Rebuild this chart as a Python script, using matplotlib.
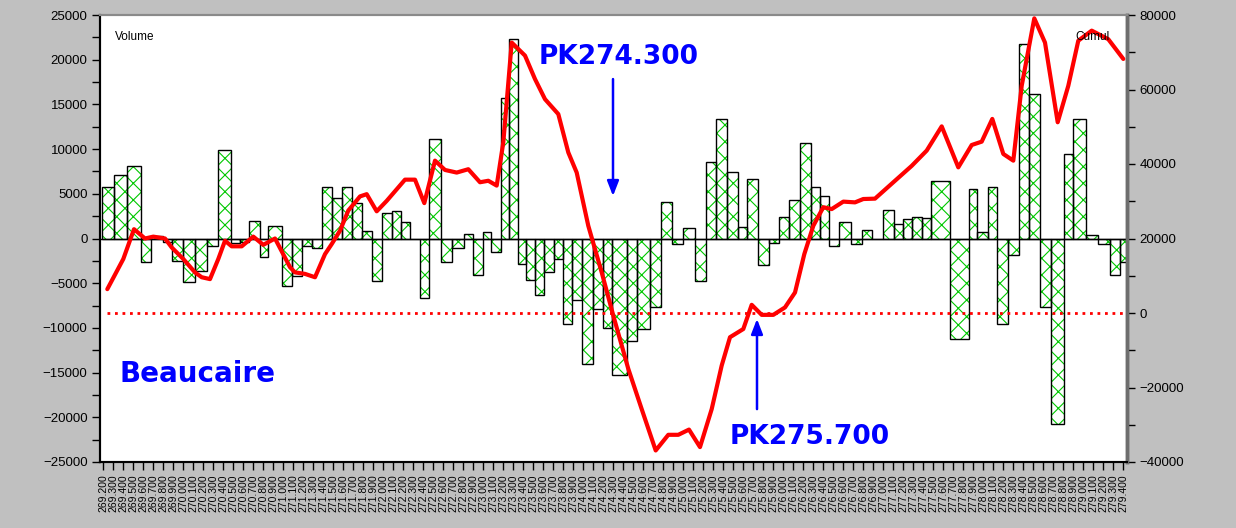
import numpy as np
import matplotlib
matplotlib.use("Agg")
import matplotlib.pyplot as plt
from matplotlib.ticker import MultipleLocator, FormatStrFormatter

# ---- data -------------------------------------------------------------
# PK (km) of the profile boundaries delimiting each volume section
section_edges_pk = [
    269.187, 269.310, 269.443, 269.577, 269.677, 269.803, 269.887, 270.003,
    270.120, 270.243, 270.353, 270.477, 270.570, 270.660, 270.770, 270.853,
    270.987, 271.087, 271.193, 271.287, 271.387, 271.493, 271.593, 271.693,
    271.793, 271.887, 271.987, 272.087, 272.180, 272.270, 272.370, 272.460,
    272.577, 272.693, 272.810, 272.903, 273.003, 273.080, 273.180, 273.260,
    273.347, 273.430, 273.520, 273.613, 273.713, 273.803, 273.893, 273.993,
    274.097, 274.197, 274.287, 274.443, 274.537, 274.670, 274.780, 274.887,
    275.003, 275.120, 275.227, 275.330, 275.437, 275.553, 275.643, 275.747,
    275.860, 275.963, 276.063, 276.170, 276.277, 276.370, 276.463, 276.563,
    276.677, 276.787, 276.893, 277.003, 277.110, 277.200, 277.287, 277.387,
    277.480, 277.673, 277.863, 277.937, 278.053, 278.143, 278.247, 278.363,
    278.463, 278.570, 278.677, 278.807, 278.897, 279.027, 279.147, 279.273,
    279.370, 279.437,
]

# Volume per section (left axis)
volume = [
    5800, 7100, 8100, -2600, 300, -400, -2500, -4900, -3600, -800,
    9900, -500, -400, 2000, -2100, 1400, -5300, -4250, -800, -1100,
    5800, 4500, 5800, 4000, 800, -4800, 2900, 3100, 1800, -100,
    -6600, 11100, -2600, -1100, 500, -4100, 700, -1500, 15700, 22300,
    -2800, -4600, -6300, -3800, -2300, -9550, -6900, -14000, -7900, -10000,
    -15300, -11500, -10100, -7700, 4100, -600, 1200, -4700, 8600, 13400,
    7400, 1300, 6600, -3000, -450, 2350, 4300, 10700, 5800, 4700,
    -800, 1900, -600, 900, -100, 3200, 1600, 2200, 2350, 2300,
    6450, -11200, 5500, 700, 5800, -9550, -1800, 21800, 16200, -7700,
    -20700, 9400, 13400, 370, -600, -4100, -2600,
]

# Cumulative volume (right axis)
cumul_pk = [
    269.243, 269.403, 269.510, 269.620, 269.703, 269.820, 269.887, 270.003,
    270.120, 270.187, 270.270, 270.353, 270.420, 270.487, 270.587, 270.703,
    270.803, 270.920, 271.070, 271.120, 271.220, 271.320, 271.420, 271.487,
    271.570, 271.653, 271.770, 271.837, 271.937, 272.037, 272.220, 272.320,
    272.413, 272.520, 272.620, 272.737, 272.853, 272.970, 273.053, 273.137,
    273.203, 273.287, 273.420, 273.520, 273.620, 273.753, 273.853, 273.937,
    274.053, 274.187, 274.303, 274.453, 274.587, 274.727, 274.853, 274.953,
    275.060, 275.170, 275.287, 275.387, 275.470, 275.603, 275.687, 275.787,
    275.903, 276.020, 276.120, 276.213, 276.303, 276.403, 276.487, 276.603,
    276.720, 276.803, 276.920, 277.120, 277.287, 277.437, 277.587, 277.753,
    277.887, 277.987, 278.093, 278.203, 278.303, 278.387, 278.513, 278.620,
    278.747, 278.853, 278.953, 279.087, 279.253, 279.403,
]
cumul = [
    6400, 14500, 22500, 20000, 20500, 20000, 17600, 14500,
    10900, 9600, 9100, 14500, 19400, 17900, 17900, 20500,
    18300, 20000, 12300, 10900, 10500, 9600, 15800, 18500,
    22100, 27500, 31300, 31900, 27300, 30100, 35800, 35800,
    29500, 40900, 38400, 37700, 38600, 35100, 35500, 34200,
    45800, 72600, 69100, 62800, 57400, 53400, 43100, 37700,
    23400, 10900, -700, -15000, -25800, -36900, -32700, -32700,
    -31300, -36000, -25800, -14100, -6500, -4300, 2200, -500,
    -500, 1500, 5500, 15800, 23400, 28400, 27900, 29900,
    29700, 30600, 30700, 35500, 39500, 43600, 50100, 39100,
    45100, 46000, 52100, 42700, 40900, 61000, 79100, 72600,
    51200, 61000, 73100, 75800, 73500, 68200,
]

site_label = "Beaucaire"
pk_marks = [274.30, 275.74]
pk_mark_labels = ["PK274.300", "PK275.700"]

# ---- figure -------------------------------------------------------------
W, H = 1236, 528
fig = plt.figure(figsize=(W / 100, H / 100), dpi=100, facecolor="#c0c0c0")
ax = fig.add_axes([100 / W, 1 - 462 / H, 1027 / W, 447 / H])
ax.set_facecolor("white")

plt.rcParams["hatch.linewidth"] = 0.8
font = "Liberation Sans"

edges = np.array(section_edges_pk)
lefts = edges[:-1]
widths = np.diff(edges)

ax.bar(lefts, volume, width=widths, align="edge", facecolor="white",
       edgecolor="#00c800", hatch="xx", linewidth=0, zorder=2)
ax.bar(lefts, volume, width=widths, align="edge", fill=False,
       edgecolor="black", linewidth=1.0, zorder=3)
ax.axhline(0, color="black", lw=1.0, zorder=3)

ax.set_xlim(269.17, 279.44)
ax.set_ylim(-25000, 25000)
ax.yaxis.set_major_locator(MultipleLocator(5000))
ax.yaxis.set_minor_locator(MultipleLocator(2500))
ax.xaxis.set_major_locator(MultipleLocator(0.1))
ax.xaxis.set_major_formatter(FormatStrFormatter("%.3f"))
ax.tick_params(axis="y", which="both", direction="out", length=6, width=1,
               labelsize=9.5, pad=3)
ax.tick_params(axis="x", direction="out", length=6, width=1,
               labelsize=7.5, pad=3, labelrotation=90)
for lab in ax.get_yticklabels() + ax.get_xticklabels():
    lab.set_fontfamily(font)

ax2 = ax.twinx()
ax2.set_ylim(-40000, 80000)
ax2.yaxis.set_major_locator(MultipleLocator(20000))
ax2.yaxis.set_minor_locator(MultipleLocator(10000))
ax2.tick_params(axis="y", which="both", direction="out", length=6, width=1,
                labelsize=9.5, pad=3)
for lab in ax2.get_yticklabels():
    lab.set_fontfamily(font)

ax2.plot([cumul_pk[0], cumul_pk[-1]], [0, 0], color="red", lw=2,
         linestyle=(0, (1, 1.7)), zorder=2)
ax2.plot(cumul_pk, cumul, color="red", lw=3, solid_joinstyle="round",
         solid_capstyle="round", zorder=3)

for a in (ax, ax2):
    for s in a.spines.values():
        s.set_linewidth(1.5)
    a.spines["top"].set_color("#8a8a8a")
    a.spines["right"].set_color("#6e6e6e")
    a.spines["right"].set_linewidth(2.5)
    a.spines["left"].set_color("black")
    a.spines["bottom"].set_color("black")

ax.text(0.0146, 0.951, "Volume", transform=ax.transAxes, fontsize=8.5,
        fontfamily=font, ha="left", va="center")
ax2.text(0.983, 0.951, "Cumul", transform=ax.transAxes, fontsize=8.5,
         fontfamily=font, ha="right", va="center", zorder=5)

blue = "#0000ff"
# PK274.300 : arrow pointing down
ax2.annotate("", xy=(pk_marks[0], 31400), xytext=(pk_marks[0], 62800),
             arrowprops=dict(arrowstyle="-|>,head_length=0.9,head_width=0.35",
                             color=blue, lw=1.8, shrinkA=0, shrinkB=0),
             zorder=6)
ax2.text(274.36, 68700, pk_mark_labels[0], color=blue, fontsize=19,
         fontweight="bold", fontfamily="DejaVu Sans", ha="center",
         va="center", zorder=6)
# PK275.700 : arrow pointing up
ax2.annotate("", xy=(pk_marks[1], -1600), xytext=(pk_marks[1], -25800),
             arrowprops=dict(arrowstyle="-|>,head_length=0.9,head_width=0.35",
                             color=blue, lw=1.8, shrinkA=0, shrinkB=0),
             zorder=6)
ax2.text(276.27, -33300, pk_mark_labels[1], color=blue, fontsize=19,
         fontweight="bold", fontfamily="DejaVu Sans", ha="center",
         va="center", zorder=6)
ax2.text(270.145, -16400, site_label, color=blue, fontsize=20,
         fontweight="bold", fontfamily="DejaVu Sans", ha="center",
         va="center", zorder=6)

fig.savefig("out.png", dpi=100, facecolor=fig.get_facecolor())
